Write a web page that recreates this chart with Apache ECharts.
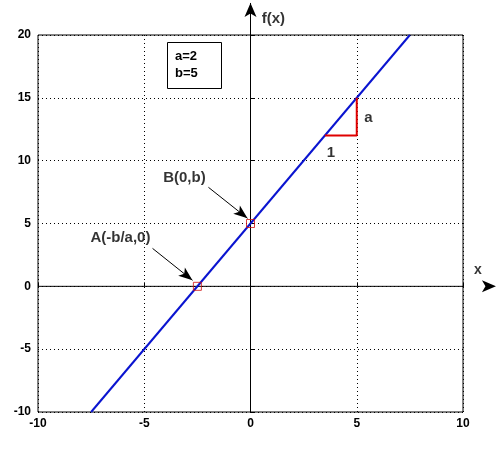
<!DOCTYPE html>
<html>
<head>
<meta charset="utf-8">
<script src="https://cdn.jsdelivr.net/npm/echarts@6/dist/echarts.min.js"></script>
<style>
  html, body { margin: 0; padding: 0; background: #fff; }
  #chart { width: 502px; height: 452px; }
</style>
</head>
<body>
<div id="chart"></div>
<script>
// f(x) = a*x + b
const lineData = [[-7.5, -10], [7.5, 20]];
const rootPoints = [[-2.5, 0], [0, 5]];
const slopeTriangle = [[3.5, 12], [5, 12], [5, 15]];
const xAxisLine = [[-10, 0], [11.55, 0]];
const yAxisLine = [[0, -10], [0, 22.55]];
const xTicks = [-10, -5, 0, 5, 10];
const yTicks = [-10, -5, 0, 5, 10, 15, 20];

const font = 'Liberation Sans, Arial, sans-serif';

const chart = echarts.init(document.getElementById('chart'));

function textPoint(coord, text, size) {
  return {
    value: coord,
    label: {
      show: true,
      position: 'inside',
      formatter: text,
      color: '#000',
      textBorderWidth: 0,
      fontFamily: font,
      fontSize: size,
      fontWeight: 'bold'
    }
  };
}

// axis line with arrow head at its end
function arrowAxis(points, rotate) {
  return {
    type: 'line',
    clip: false,
    showSymbol: true,
    symbol: 'none',
    data: [
      { value: points[0], symbol: 'none' },
      { value: points[1], symbol: 'arrow', symbolSize: [9, 14], symbolRotate: rotate }
    ],
    itemStyle: { color: '#000' },
    lineStyle: { color: '#000', width: 1 },
    z: 2
  };
}

const option = {
  animation: false,
  backgroundColor: '#fff',
  grid: {
    left: 38, right: 39, top: 35, bottom: 40,
    show: true,
    borderColor: '#000',
    borderWidth: 1
  },
  xAxis: {
    type: 'value',
    min: -10, max: 10, interval: 5,
    axisLine: { show: false },
    axisTick: { show: true, inside: true, length: 4, lineStyle: { color: '#000' } },
    axisLabel: { color: '#000', fontFamily: font, fontSize: 12, fontWeight: 'bold', margin: 6 },
    splitLine: { show: true, lineStyle: { color: '#000', type: [1, 3], width: 1 } }
  },
  yAxis: {
    type: 'value',
    min: -10, max: 20, interval: 5,
    axisLine: { show: false },
    axisTick: { show: true, inside: true, length: 4, lineStyle: { color: '#000' } },
    axisLabel: { color: '#000', fontFamily: font, fontSize: 12, fontWeight: 'bold', margin: 7 },
    splitLine: { show: true, lineStyle: { color: '#000', type: [1, 3], width: 1 } }
  },
  series: [
    arrowAxis(xAxisLine, -90),
    arrowAxis(yAxisLine, 0),
    {
      type: 'line',
      data: lineData,
      showSymbol: false,
      lineStyle: { color: '#0a14d0', width: 2 },
      z: 3
    },
    {
      type: 'line',
      data: slopeTriangle,
      showSymbol: false,
      lineStyle: { color: '#e00000', width: 2 },
      z: 4
    },
    {
      type: 'scatter',
      data: rootPoints,
      symbol: 'rect',
      symbolSize: 8,
      itemStyle: { color: 'rgba(0,0,0,0)', borderColor: '#d01010', borderWidth: 1 },
      z: 5
    },
    {
      // annotation arrows
      type: 'line',
      data: [],
      clip: false,
      markLine: {
        silent: true,
        symbol: ['none', 'arrow'],
        symbolSize: [8, 14],
        label: { show: false },
        lineStyle: { color: '#000', width: 1, type: 'solid' },
        data: [
          [{ coord: [-4.61, 3.02] }, { coord: [-2.73, 0.48] }],
          [{ coord: [-1.98, 7.88] }, { coord: [-0.14, 5.41] }]
        ]
      }
    },
    {
      type: 'scatter',
      symbolSize: 0,
      clip: false,
      itemStyle: { color: '#000' },
      data: [
        textPoint([-6.12, 3.82], 'A(-b/a,0)', 15),
        textPoint([-3.11, 8.67], 'B(0,b)', 15),
        textPoint([5.55, 13.4], 'a', 15),
        textPoint([3.78, 10.6], '1', 15),
        textPoint([1.08, 21.3], 'f(x)', 15),
        textPoint([10.7, 1.3], 'x', 14)
      ],
      z: 6
    }
  ],
  graphic: [
    {
      type: 'rect',
      left: 167, top: 42,
      shape: { width: 54, height: 46 },
      style: { fill: '#fff', stroke: '#000', lineWidth: 1 },
      z: 10
    },
    {
      type: 'text',
      left: 175, top: 48,
      style: {
        text: 'a=2\nb=5',
        font: 'bold 13px ' + font,
        lineHeight: 17,
        fill: '#000'
      },
      z: 11
    }
  ]
};

chart.setOption(option);
</script>
</body>
</html>
